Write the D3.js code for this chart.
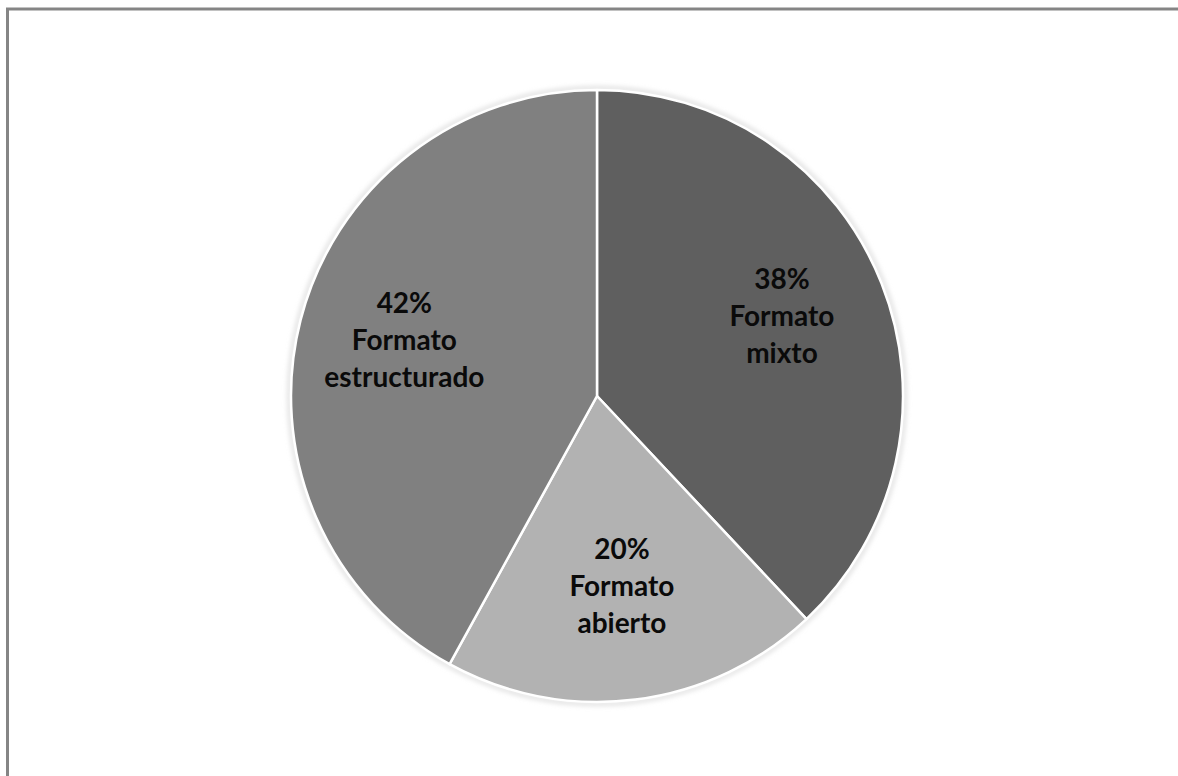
<!DOCTYPE html>
<html>
<head>
<meta charset="utf-8">
<script src="https://cdn.jsdelivr.net/npm/d3@7"></script>
<style>
  html, body { margin: 0; padding: 0; background: #fff; }
  svg { display: block; }
</style>
</head>
<body>
<svg id="chart" width="1178" height="776"></svg>
<script>
// Distribution of response formats
const categories = ["Formato mixto", "Formato abierto", "Formato estructurado"];
const shares = [38, 20, 42];
const fills = ["#5f5f5f", "#b2b2b2", "#808080"];

const W = 1178, H = 776;
const cx = 597, cy = 396, R = 306;

const svg = d3.select("#chart");

// chart frame (only top and left edges fall inside the view)
svg.append("rect")
  .attr("x", 7.5).attr("y", 9)
  .attr("width", W + 20).attr("height", H + 20)
  .attr("fill", "#fff")
  .attr("stroke", "#858585")
  .attr("stroke-width", 3);

const defs = svg.append("defs");
const blur = defs.append("filter").attr("id", "halo")
  .attr("x", "-10%").attr("y", "-10%").attr("width", "120%").attr("height", "120%");
blur.append("feGaussianBlur").attr("stdDeviation", 2.5);

const g = svg.append("g").attr("transform", `translate(${cx},${cy})`);

// soft outline around the pie
g.append("circle")
  .attr("r", R + 2)
  .attr("fill", "none")
  .attr("stroke", "#d6d6d6")
  .attr("stroke-width", 3)
  .attr("filter", "url(#halo)");

const data = categories.map((c, i) => ({ name: c, value: shares[i], fill: fills[i] }));

const pie = d3.pie().value(d => d.value).sort(null);
const arc = d3.arc().innerRadius(0).outerRadius(R);
const labelArc = d3.arc().innerRadius(R * 0.65).outerRadius(R * 0.65);

const arcs = pie(data);

g.selectAll("path.slice")
  .data(arcs)
  .join("path")
  .attr("class", "slice")
  .attr("d", arc)
  .attr("fill", d => d.data.fill)
  .attr("stroke", "#fff")
  .attr("stroke-width", 2.5)
  .attr("stroke-linejoin", "round");

const lineH = 37;
const labels = g.selectAll("text.lbl")
  .data(arcs)
  .join("text")
  .attr("class", "lbl")
  .attr("text-anchor", "middle")
  .attr("font-family", "Lato, 'Open Sans', sans-serif")
  .attr("font-weight", "bold")
  .attr("font-size", 28)
  .attr("fill", "#0a0a0a")
  .attr("transform", d => {
    const [x, y] = labelArc.centroid(d);
    return `translate(${x},${y})`;
  });

labels.each(function(d) {
  const words = d.data.name.split(" ");
  const lines = [d.data.value + "%", words[0], words.slice(1).join(" ")];
  const t = d3.select(this);
  lines.forEach((ln, i) => {
    t.append("tspan")
      .attr("x", 0)
      .attr("y", (i - 1) * lineH + 3)
      .text(ln);
  });
});
</script>
</body>
</html>
